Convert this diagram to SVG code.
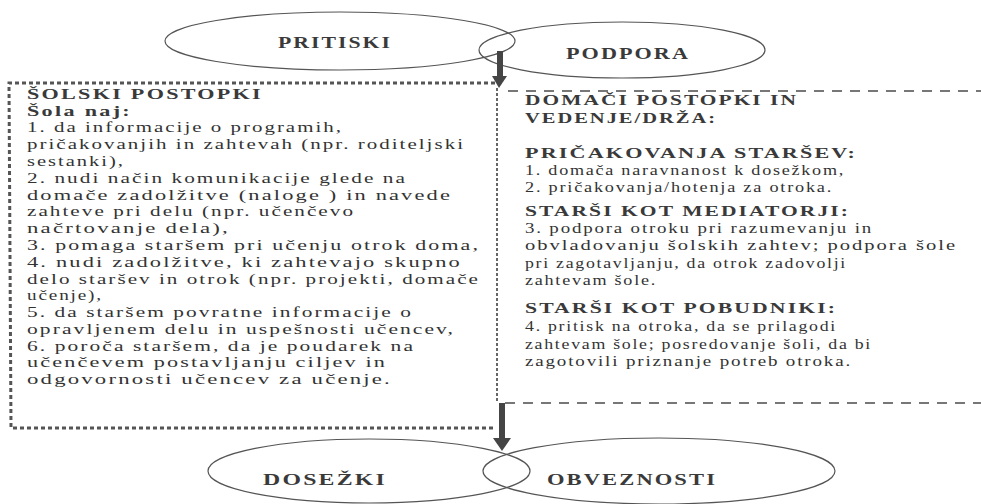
<svg xmlns="http://www.w3.org/2000/svg" width="981" height="504" viewBox="0 0 981 504">
<style>
.bg{fill:#ffffff}
.ell{fill:none;stroke:#555;stroke-width:1.2}
.lbl{font-family:"Liberation Serif","Times New Roman",serif;font-size:16px;font-weight:bold;fill:#3a3a3a;letter-spacing:1.5px}
.t{font-family:"Liberation Serif","Times New Roman",serif;font-size:15.5px;fill:#333;letter-spacing:1.5px}
.b{font-family:"Liberation Serif","Times New Roman",serif;font-size:15.5px;font-weight:bold;fill:#3a3a3a;letter-spacing:1.5px}
.bs{font-size:14.5px}
.dot{fill:none;stroke:#555;stroke-width:3;stroke-dasharray:4 3}
.div{fill:none;stroke:#666;stroke-width:2;stroke-dasharray:3 2}
.dash{fill:none;stroke:#777;stroke-width:2;stroke-dasharray:10 8}
.arr{fill:#454545}
</style>
<rect class="bg" x="0" y="0" width="981" height="504"/>
<g id="node-pritiski">
<ellipse class="ell" cx="340" cy="41" rx="175" ry="29"/>
<text class="lbl" x="278" y="48" textLength="114" lengthAdjust="spacingAndGlyphs">PRITISKI</text>
</g>
<g id="node-podpora">
<ellipse class="ell" cx="622" cy="50" rx="143" ry="28"/>
<text class="lbl" x="566" y="59" textLength="124" lengthAdjust="spacingAndGlyphs">PODPORA</text>
</g>
<g id="node-solski">
<path class="dot" d="M 495 83 L 9 83 L 11 428 L 495 428"/>
<text class="b bs" x="27" y="99" textLength="236" lengthAdjust="spacingAndGlyphs">ŠOLSKI POSTOPKI</text>
<text class="b bs" x="27" y="116" textLength="105" lengthAdjust="spacingAndGlyphs">Šola naj:</text>
<text class="t" x="27" y="132" textLength="316" lengthAdjust="spacingAndGlyphs">1. da informacije o programih,</text>
<text class="t" x="27" y="149" textLength="438" lengthAdjust="spacingAndGlyphs">pričakovanjih in zahtevah (npr. roditeljski</text>
<text class="t" x="27" y="166" textLength="98" lengthAdjust="spacingAndGlyphs">sestanki),</text>
<text class="t" x="27" y="183" textLength="380" lengthAdjust="spacingAndGlyphs">2. nudi način komunikacije glede na</text>
<text class="t" x="27" y="200" textLength="425" lengthAdjust="spacingAndGlyphs">domače zadolžitve (naloge ) in navede</text>
<text class="t" x="27" y="216" textLength="328" lengthAdjust="spacingAndGlyphs">zahteve pri delu (npr. učenčevo</text>
<text class="t" x="27" y="233" textLength="203" lengthAdjust="spacingAndGlyphs">načrtovanje dela),</text>
<text class="t" x="27" y="250" textLength="453" lengthAdjust="spacingAndGlyphs">3. pomaga staršem pri učenju otrok doma,</text>
<text class="t" x="27" y="267" textLength="435" lengthAdjust="spacingAndGlyphs">4. nudi zadolžitve, ki zahtevajo skupno</text>
<text class="t" x="27" y="284" textLength="453" lengthAdjust="spacingAndGlyphs">delo staršev in otrok (npr. projekti, domače</text>
<text class="t" x="27" y="300" textLength="76" lengthAdjust="spacingAndGlyphs">učenje),</text>
<text class="t" x="27" y="317" textLength="386" lengthAdjust="spacingAndGlyphs">5. da staršem povratne informacije  o</text>
<text class="t" x="27" y="334" textLength="428" lengthAdjust="spacingAndGlyphs">opravljenem delu in uspešnosti učencev,</text>
<text class="t" x="27" y="351" textLength="388" lengthAdjust="spacingAndGlyphs">6. poroča staršem, da je poudarek na</text>
<text class="t" x="27" y="367" textLength="360" lengthAdjust="spacingAndGlyphs">učenčevem postavljanju ciljev in</text>
<text class="t" x="27" y="384" textLength="365" lengthAdjust="spacingAndGlyphs">odgovornosti učencev za učenje.</text>
</g>
<g id="node-domaci">
<path class="dash" d="M 508 91 L 981 91"/>
<path class="dash" d="M 505 403 L 981 403"/>
<text class="b" x="525" y="105" textLength="273" lengthAdjust="spacingAndGlyphs">DOMAČI POSTOPKI IN</text>
<text class="b" x="525" y="123" textLength="192" lengthAdjust="spacingAndGlyphs">VEDENJE/DRŽA:</text>
<text class="b" x="525" y="158" textLength="332" lengthAdjust="spacingAndGlyphs">PRIČAKOVANJA STARŠEV:</text>
<text class="t" x="525" y="175" textLength="320" lengthAdjust="spacingAndGlyphs">1. domača naravnanost k dosežkom,</text>
<text class="t" x="525" y="192" textLength="308" lengthAdjust="spacingAndGlyphs">2. pričakovanja/hotenja za otroka.</text>
<text class="b" x="525" y="216" textLength="325" lengthAdjust="spacingAndGlyphs">STARŠI KOT MEDIATORJI:</text>
<text class="t" x="525" y="233" textLength="348" lengthAdjust="spacingAndGlyphs">3. podpora otroku pri razumevanju in</text>
<text class="t" x="525" y="250" textLength="432" lengthAdjust="spacingAndGlyphs">obvladovanju šolskih zahtev; podpora šole</text>
<text class="t" x="525" y="268" textLength="322" lengthAdjust="spacingAndGlyphs">pri zagotavljanju, da otrok zadovolji</text>
<text class="t" x="525" y="285" textLength="132" lengthAdjust="spacingAndGlyphs">zahtevam šole.</text>
<text class="b" x="525" y="313" textLength="312" lengthAdjust="spacingAndGlyphs">STARŠI KOT POBUDNIKI:</text>
<text class="t" x="525" y="331" textLength="312" lengthAdjust="spacingAndGlyphs">4. pritisk na otroka, da se prilagodi</text>
<text class="t" x="525" y="349" textLength="347" lengthAdjust="spacingAndGlyphs">zahtevam šole; posredovanje šoli, da bi</text>
<text class="t" x="525" y="366" textLength="327" lengthAdjust="spacingAndGlyphs">zagotovili priznanje potreb otroka.</text>
</g>
<g id="node-dosezki">
<ellipse class="ell" cx="369" cy="471" rx="161" ry="32"/>
<text class="lbl" x="263" y="485" textLength="124" lengthAdjust="spacingAndGlyphs">DOSEŽKI</text>
</g>
<g id="node-obveznosti">
<ellipse class="ell" cx="659" cy="471" rx="176" ry="33"/>
<text class="lbl" x="547" y="485" textLength="170" lengthAdjust="spacingAndGlyphs">OBVEZNOSTI</text>
</g>
<g id="connectors">
<path class="div" d="M 497 88 L 497 403"/>
<rect class="arr" x="497" y="51" width="6" height="27"/>
<polygon class="arr" points="492,76 507,76 499,88"/>
<rect class="arr" x="499" y="403" width="6" height="36"/>
<polygon class="arr" points="493,438 511,438 502,451"/>
</g>
</svg>
